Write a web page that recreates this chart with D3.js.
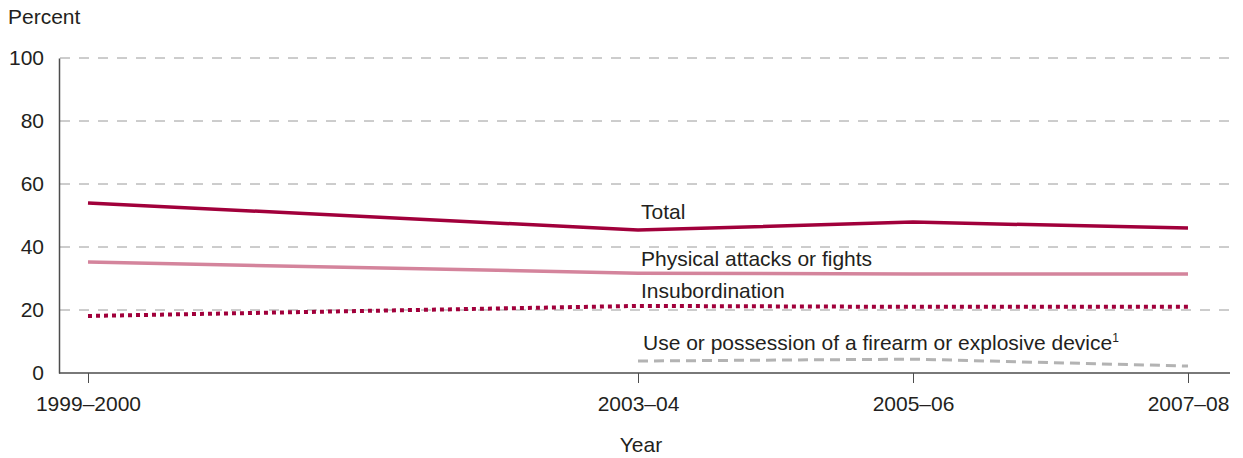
<!DOCTYPE html>
<html>
<head>
<meta charset="utf-8">
<script src="https://cdn.jsdelivr.net/npm/d3@7"></script>
<style>
  body { margin: 0; background: #fff; }
  text, tspan { font-family: "Liberation Sans", Arial, sans-serif; fill: #231f20; }
</style>
</head>
<body>
<div id="chart"></div>
<script>
(function () {
    'use strict';
    var width = 1243;
    var height = 458;
    var fs = '21px';

    // data
    var years = [1999, 2003, 2005, 2007];
    var yearLabels = ['1999\u20132000', '2003\u201304', '2005\u201306', '2007\u201308'];
    var yTicks = [0, 20, 40, 60, 80, 100];
    var total = [54.0, 45.4, 47.9, 46.0];
    var physical = [35.2, 31.7, 31.4, 31.4];
    var insubordination = [18.1, 21.3, 21.0, 21.0];
    var firearmYears = [2003, 2005, 2007];
    var firearm = [3.8, 4.4, 2.2];

    var series = [
        { name: 'Total', years: years, values: total, color: '#a1003b', width: 3.5, dash: null, label: [641, 219] },
        { name: 'Physical attacks or fights', years: years, values: physical, color: '#d4849c', width: 3.5, dash: null, label: [641, 266] },
        { name: 'Insubordination', years: years, values: insubordination, color: '#a1003b', width: 4, dash: '4,4', label: [641, 298] },
        { name: 'Use or possession of a firearm or explosive device', sup: '1', years: firearmYears, values: firearm, color: '#b3b3b3', width: 3, dash: '10,6', label: [643, 350] }
    ];

    var svg = d3.select('#chart').append('svg')
        .attr('width', width)
        .attr('height', height);

    var x = d3.scaleLinear().domain([1999, 2007]).range([88, 1188]);
    var y = d3.scaleLinear().domain([0, 100]).range([373, 58]);

    // gridlines
    svg.append('g').selectAll('line')
        .data(yTicks.filter(function (d) { return d > 0; }))
        .enter().append('line')
        .attr('x1', 60).attr('x2', 1230)
        .attr('y1', function (d) { return y(d); })
        .attr('y2', function (d) { return y(d); })
        .attr('stroke', '#9a9a9a')
        .attr('stroke-width', 1)
        .attr('stroke-dasharray', '10,9');

    // y axis
    var yAxis = svg.append('g')
        .attr('transform', 'translate(59,0)')
        .call(d3.axisLeft(y).tickValues(yTicks).tickSize(0).tickPadding(15));
    yAxis.select('.domain').attr('stroke', '#4d4d4d').attr('stroke-width', 1.5);
    yAxis.selectAll('text').style('font-size', fs).attr('fill', '#231f20');

    // x axis
    var xAxis = svg.append('g')
        .attr('transform', 'translate(0,373)')
        .call(d3.axisBottom(x).tickValues(years)
            .tickFormat(function (d, i) { return yearLabels[i]; })
            .tickSize(10).tickSizeOuter(0).tickPadding(13));
    xAxis.select('.domain').attr('d', 'M59,0H1230').attr('stroke', '#4d4d4d').attr('stroke-width', 1.5);
    xAxis.selectAll('.tick line').attr('stroke', '#4d4d4d').attr('stroke-width', 1);
    xAxis.selectAll('text').style('font-size', fs).attr('fill', '#231f20');

    // lines
    var line = d3.line()
        .x(function (d) { return x(d[0]); })
        .y(function (d) { return y(d[1]); });

    series.slice().reverse().forEach(function (s) {
        var pts = s.years.map(function (yr, i) { return [yr, s.values[i]]; });
        svg.append('path')
            .attr('d', line(pts))
            .attr('fill', 'none')
            .attr('stroke', s.color)
            .attr('stroke-width', s.width)
            .attr('stroke-dasharray', s.dash);
    });

    // series labels
    series.forEach(function (s) {
        var t = svg.append('text')
            .attr('x', s.label[0])
            .attr('y', s.label[1])
            .style('font-size', fs)
            .text(s.name);
        if (s.sup) {
            t.append('tspan').attr('dy', -8).style('font-size', '12px')
                .style('fill', '#231f20').text(s.sup);
        }
    });

    // titles
    svg.append('text').attr('x', 8).attr('y', 24).style('font-size', fs).text('Percent');
    svg.append('text').attr('x', 641).attr('y', 452).attr('text-anchor', 'middle')
        .style('font-size', fs).text('Year');
}());
</script>
</body>
</html>
